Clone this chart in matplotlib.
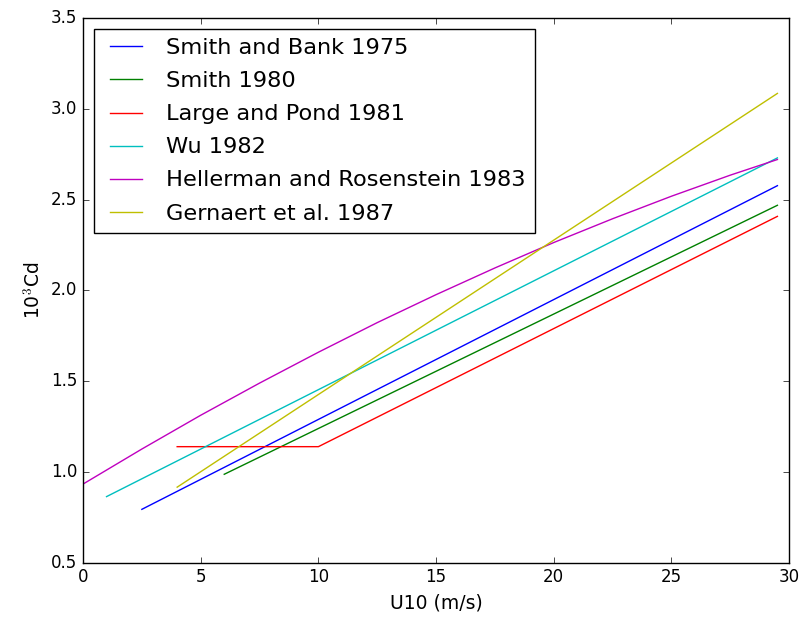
import matplotlib
matplotlib.use('Agg')
import matplotlib.pyplot as plt

# drag coefficient curves (10^3 Cd vs U10)
smith_bank_u = [2.5, 29.5]
smith_bank_cd = [0.795, 2.577]

smith_u = [6.0, 29.5]
smith_cd = [0.988, 2.469]

large_pond_u = [4.0, 10.0, 29.5]
large_pond_cd = [1.14, 1.14, 2.408]

wu_u = [1.0, 29.5]
wu_cd = [0.865, 2.73]

hr_u = [0.0, 2.5, 5.0, 7.5, 10.0, 12.5, 15.0, 17.5, 20.0, 22.5, 25.0, 27.5, 29.5]
hr_cd = [0.934, 1.127, 1.313, 1.490, 1.660, 1.823, 1.977, 2.124, 2.264, 2.395, 2.519, 2.635, 2.721]

gernaert_u = [4.0, 29.5]
gernaert_cd = [0.917, 3.085]

labels = ['Smith and Bank 1975', 'Smith 1980', 'Large and Pond 1981',
          'Wu 1982', 'Hellerman and Rosenstein 1983', 'Gernaert et al. 1987']

plt.style.use('classic')
fig = plt.figure(figsize=(8.02, 6.22), dpi=100, facecolor='white')
ax = fig.add_axes([0.1035, 0.095, 0.8805, 0.876])

ax.plot(smith_bank_u, smith_bank_cd, 'b', label=labels[0])
ax.plot(smith_u, smith_cd, 'g', label=labels[1])
ax.plot(large_pond_u, large_pond_cd, 'r', label=labels[2])
ax.plot(wu_u, wu_cd, 'c', label=labels[3])
ax.plot(hr_u, hr_cd, 'm', label=labels[4])
ax.plot(gernaert_u, gernaert_cd, 'y', label=labels[5])

ax.set_xlim(0, 30)
ax.set_ylim(0.5, 3.5)
ax.set_xlabel('U10 (m/s)', fontsize=13.5)
ax.set_ylabel('10$^3$Cd', fontsize=13.5)
ax.legend(loc='upper left', fontsize=16.2, labelspacing=0.58)

fig.savefig('out.png', dpi=100, facecolor='white')
